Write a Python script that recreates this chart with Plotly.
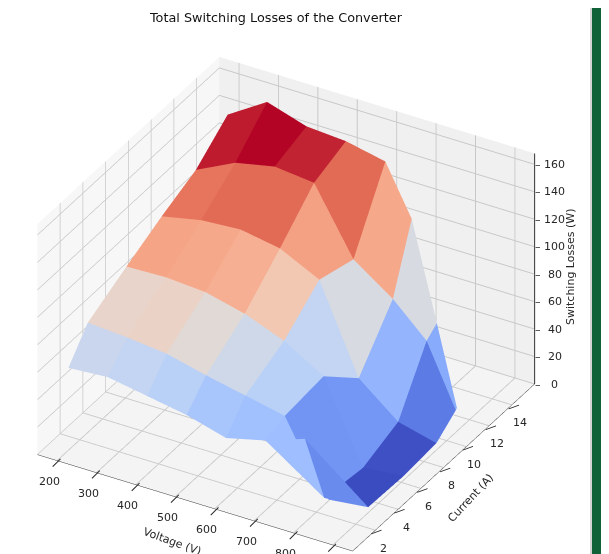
import plotly.graph_objects as go

title_text = "Total Switching Losses of the Converter"
voltage_ticks = [200, 300, 400, 500, 600, 700, 800, 900]
current_ticks = [2, 4, 6, 8, 10, 12, 14]
loss_ticks = [0, 20, 40, 60, 80, 100, 120, 140, 160]

# node values, row by row from the highest current to the lowest
voltage_nodes = [
    [200, 300, 400, 500, 600, 667, 800, 900],
    [200, 300, 400, 500, 600, 700, 800, 900],
    [200, 300, 400, 500, 600, 700, 800, 900],
    [200, 300, 400, 500, 600, 700, 800, 900],
    [200, 300, 400, 500, 600, 700, 800, 900],
    [200, 300, 400, 500, 600, 700, 800, 860],
]
current_nodes = [
    [15, 15, 15, 15, 15, 15, 12.6, 10.9],
    [12.2, 12.2, 12.2, 12.2, 12.2, 12.2, 11.7, 10.8],
    [9.2, 9.2, 9.2, 9.2, 9.2, 9.2, 9.2, 9.1],
    [6.1, 6.1, 6.1, 6.1, 6.1, 6.1, 6.1, 6.25],
    [2.7, 2.7, 2.7, 2.7, 2.7, 2.7, 2.7, 3.1],
    [1, 1, 1, 1, 1, 1, 1, 1],
]
loss_nodes = [
    [138, 156, 147, 145, 139, 103, 57, 17],
    [119, 133, 139, 136, 89, 69, 51, 16],
    [108, 114, 116, 111, 97, 34, 11, 5],
    [95, 96, 94, 87, 76, 59, 1, 3],
    [80, 78, 75, 68, 62, 56, 5, 4],
    [60, 62, 57, 52, 44, 51, 61, 22],
]
# colour level of each cell, 0 to 1 on the colour ramp
cell_levels = [
    [0.97, 1.00, 0.96, 0.85, 0.71, 0.48, 0.24],
    [0.83, 0.85, 0.85, 0.73, 0.48, 0.27, 0.11],
    [0.72, 0.71, 0.69, 0.61, 0.41, 0.18, 0.01],
    [0.55, 0.56, 0.52, 0.45, 0.38, 0.175, 0.00],
    [0.43, 0.41, 0.38, 0.33, 0.31, 0.30, 0.15],
]
ramp = ["#3b4cc0", "#5977e3", "#7b9ff9", "#9ebeff", "#c0d4f5", "#dddcdc",
        "#f2cbb7", "#f7ac8e", "#ee8468", "#d65244", "#b40426"]
V_LO, V_HI = 150, 950
I_LO, I_HI = 0, 16
Z_LO, Z_HI = 0, 168


def ramp_colour(t):
    p = min(t, 0.9999) * (len(ramp) - 1)
    i = int(p)
    f = p - i
    a = ramp[i]
    b = ramp[i + 1]
    parts = []
    for k in (1, 3, 5):
        u = int(a[k:k + 2], 16)
        v = int(b[k:k + 2], 16)
        parts.append(round(u + (v - u) * f))
    return "rgb(%d,%d,%d)" % tuple(parts)


rows = len(voltage_nodes)
cols = len(voltage_nodes[0])
xs = [v for r in voltage_nodes for v in r]
ys = [v for r in current_nodes for v in r]
zs = [v for r in loss_nodes for v in r]
ii, jj, kk, fc = [], [], [], []
for r in range(rows - 1):
    for c in range(cols - 1):
        a = r * cols + c
        b = a + 1
        d = a + cols
        e = d + 1
        col = ramp_colour(cell_levels[r][c])
        ii += [a, b]
        jj += [b, e]
        kk += [d, d]
        fc += [col, col]

fig = go.Figure()
fig.add_trace(go.Mesh3d(
    x=xs, y=ys, z=zs, i=ii, j=jj, k=kk, facecolor=fc, flatshading=True,
    lighting=dict(ambient=1, diffuse=0, specular=0, roughness=1, fresnel=0),
    hoverinfo="skip", showscale=False,
))
# vertical axis line at the right-hand corner of the box
fig.add_trace(go.Scatter3d(
    x=[V_HI, V_HI], y=[I_HI, I_HI], z=[Z_LO, Z_HI], mode="lines",
    line=dict(color="#333333", width=2), hoverinfo="skip", showlegend=False,
))


def axis(lo, hi, colour, ticks=None):
    d = dict(
        range=[lo, hi], title=dict(text=""), showbackground=True, backgroundcolor=colour,
        gridcolor="#c8c8c8", gridwidth=2, zeroline=False, showticklabels=False, showspikes=False,
    )
    if ticks is not None:
        d.update(tickmode="array", tickvals=ticks)
    return d


tick_font = dict(family="DejaVu Sans", size=11, color="#262626")
scene_notes = []
for v in voltage_ticks:
    scene_notes.append(dict(x=v, y=I_LO, z=Z_LO, text=str(v), showarrow=False, xshift=-8, yshift=-21, font=tick_font))
    scene_notes.append(dict(x=v, y=I_LO, z=Z_LO, text="|", showarrow=False, xshift=0, yshift=-2, textangle=45, font=tick_font))
for c in current_ticks:
    scene_notes.append(dict(x=V_HI, y=c, z=Z_LO, text=str(c), showarrow=False, xshift=8, yshift=-18, font=tick_font))
    scene_notes.append(dict(x=V_HI, y=c, z=Z_LO, text="|", showarrow=False, xshift=2, yshift=-2, textangle=70, font=tick_font))
for z in loss_ticks:
    scene_notes.append(dict(x=V_HI, y=I_HI, z=z, text=str(z), showarrow=False, xshift=20, font=tick_font))
    scene_notes.append(dict(x=V_HI, y=I_HI, z=z, text="–", showarrow=False, xshift=3, font=tick_font))

fig.update_layout(
    width=609, height=554, paper_bgcolor="white", margin=dict(l=0, r=0, t=0, b=0),
    title=dict(text=title_text, x=0.44, xanchor="center", y=0.982, yanchor="middle",
               font=dict(family="DejaVu Sans", size=12.8, color="#111111")),
    scene=dict(
        domain=dict(x=[0, 0.913], y=[0, 0.931]),
        xaxis={**axis(V_LO, V_HI, "#f7f7f7", voltage_ticks), "showline": True, "linecolor": "#333333", "linewidth": 1},
        yaxis={**axis(I_LO, I_HI, "#f0f0f0", current_ticks), "showline": True, "linecolor": "#333333", "linewidth": 1},
        zaxis=axis(Z_LO, Z_HI, "#f4f4f4", loss_ticks),
        aspectmode="manual", aspectratio=dict(x=1.411, y=1.411, z=1.054),
        camera=dict(eye=dict(x=0.848, y=-1.469, z=1.06), center=dict(x=0, y=0, z=0),
                    up=dict(x=0, y=0, z=1), projection=dict(type="orthographic")),
        annotations=scene_notes,
    ),
    shapes=[dict(type="rect", xref="paper", yref="paper", x0=584 / 609, x1=597 / 609, y0=0, y1=1,
                 fillcolor="#0f6238", line=dict(width=0), layer="above"),
            dict(type="rect", xref="paper", yref="paper", x0=582 / 609, x1=584 / 609, y0=0, y1=1,
                 fillcolor="#d4d4d4", line=dict(width=0), layer="above")],
    annotations=[
        dict(text="Voltage (V)", x=164 / 609, y=1 - 533 / 554, xref="paper", yref="paper", xanchor="center", yanchor="middle",
             showarrow=False, textangle=20, font=tick_font),
        dict(text="Current (A)", x=462 / 609, y=1 - 490 / 554, xref="paper", yref="paper", xanchor="center", yanchor="middle",
             showarrow=False, textangle=-47, font=tick_font),
        dict(text="Switching Losses (W)", x=562 / 609, y=1 - 259 / 554, xref="paper", yref="paper", xanchor="center", yanchor="middle",
             showarrow=False, textangle=-90, font=tick_font),
    ],
)
fig.write_html("out.html")
